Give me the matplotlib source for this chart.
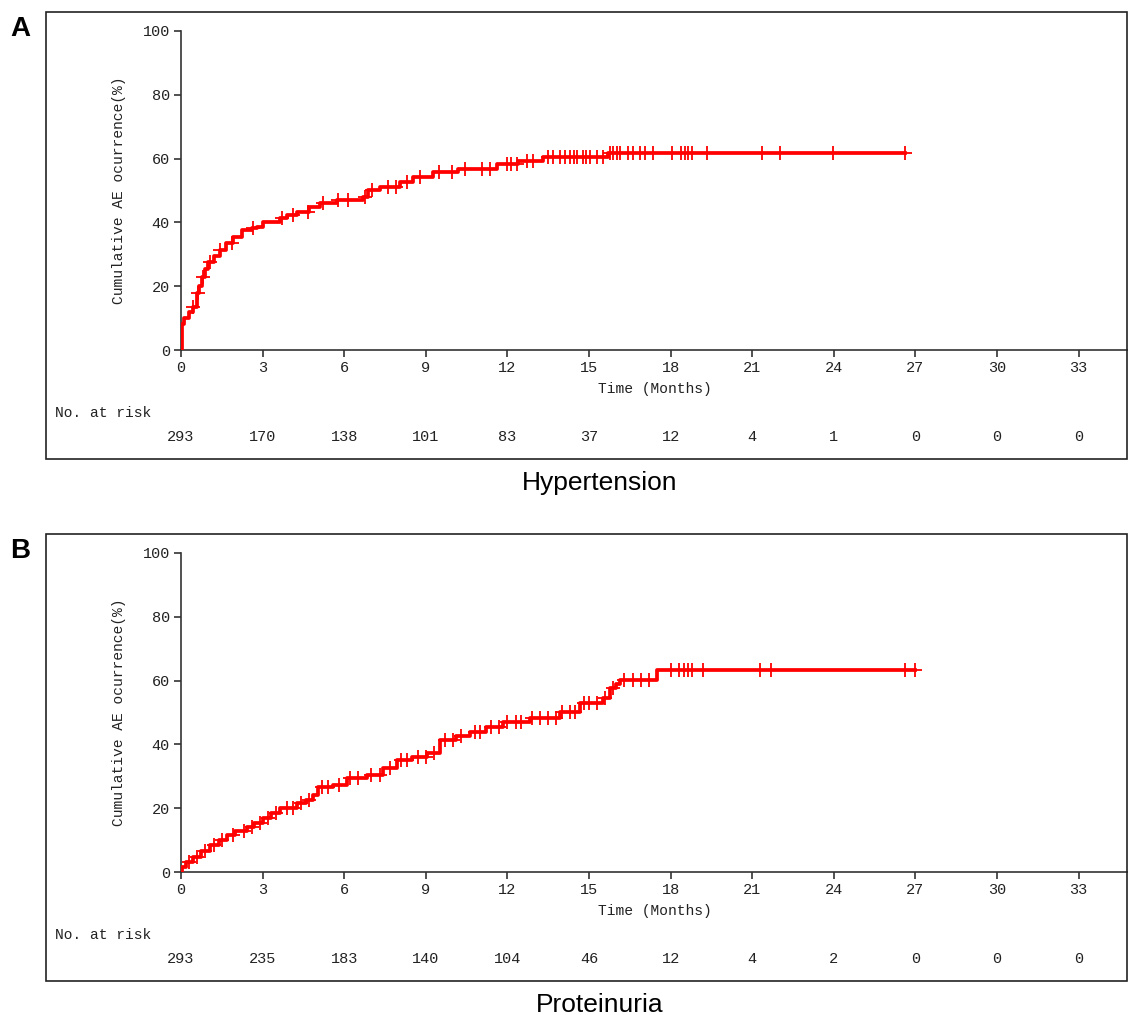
import numpy as np
import matplotlib.pyplot as plt
from matplotlib.patches import Rectangle

# ---- data ----
months = [0, 3, 6, 9, 12, 15, 18, 21, 24, 27, 30, 33]

hyp_t = [0, 0.02, 0.05, 0.1, 0.3, 0.45, 0.58, 0.68, 0.76, 0.88, 1.0, 1.2, 1.43,
         1.65, 1.92, 2.23, 2.6, 2.78, 3.03, 3.64, 3.9, 4.25, 4.7, 5.11, 5.72,
         6.7, 6.89, 7.32, 8.05, 8.54, 9.28, 10.2, 11.6, 12.4, 13.3, 15.7, 26.6]
hyp_v = [0, 5, 8, 9.9, 12, 13.6, 17.8, 20, 23, 25.5, 27.7, 29.5, 31.3,
         33.5, 35.5, 37.6, 38.2, 38.7, 40.2, 41.3, 42.2, 43.4, 44.8, 46, 47,
         48, 50.2, 51.2, 52.8, 54.3, 55.9, 56.6, 58.2, 59.2, 60.6, 61.7, 61.7]
hyp_cens = [0.45, 0.63, 0.81, 1.07, 1.43, 1.86, 2.65, 3.7, 4.13, 4.67, 5.22,
            5.77, 6.14, 6.76, 7.01, 7.61, 7.9, 8.3, 8.8, 9.5, 9.95, 10.44,
            11.05, 11.36, 11.97, 12.15, 12.34, 12.71, 12.95, 13.5, 13.69,
            13.93, 14.1, 14.3, 14.45, 14.55, 14.79, 14.9, 15.04, 15.28, 15.53,
            15.77, 15.9, 16.02, 16.14, 16.45, 16.63, 16.88, 17.06, 17.37,
            18.04, 18.4, 18.53, 18.65, 18.78, 19.33, 21.35, 22.02, 23.98, 26.6]
hyp_risk = [293, 170, 138, 101, 83, 37, 12, 4, 1, 0, 0, 0]

pro_t = [0, 0.02, 0.2, 0.45, 0.75, 1.07, 1.4, 1.68, 2.0, 2.42, 2.7, 3.03, 3.3,
         3.64, 4.25, 4.6, 4.86, 5.05, 5.6, 6.09, 6.83, 7.44, 7.93, 8.5, 9.03,
         9.52, 10.1, 10.63, 11.2, 11.85, 12.83, 13.93, 14.67, 15.53, 15.77,
         16.0, 16.14, 17.49, 27.0]
pro_v = [0, 1.7, 3, 4.8, 6.5, 8.5, 10, 11.6, 13, 14.2, 15.5, 16.8, 18.5,
         20, 21.5, 22.5, 24.1, 26.7, 27.3, 29.4, 30.4, 32.5, 35.1, 36, 37.2,
         41.4, 42.5, 44, 45.5, 47.1, 48.2, 50.3, 52.9, 54.5, 57.6,
         59, 60.2, 63.3, 63.3]
pro_cens = [0.3, 0.6, 0.9, 1.2, 1.5, 1.9, 2.3, 2.6, 2.9, 3.2, 3.5, 3.9, 4.1,
            4.4, 4.7, 5.2, 5.4, 5.8, 6.2, 6.5, 7.0, 7.3, 7.7, 8.1, 8.3, 8.7,
            9.0, 9.3, 9.7, 10.0, 10.3, 10.8, 11.0, 11.4, 11.7, 12.0, 12.3,
            12.5, 12.9, 13.2, 13.5, 13.8, 14.0, 14.3, 14.5, 14.8, 15.0, 15.3,
            15.6, 15.9, 16.3, 16.6, 16.9, 17.2, 18.0, 18.3, 18.5, 18.65, 18.8,
            19.2, 21.3, 21.7, 26.6, 27.0]
pro_risk = [293, 235, 183, 140, 104, 46, 12, 4, 2, 0, 0, 0]

W, H = 1128, 1015
fig = plt.figure(figsize=(W / 100, H / 100), dpi=100)

mono = ['Liberation Mono', 'DejaVu Sans Mono']
sans = ['Liberation Sans', 'DejaVu Sans']
gray = '#333333'
txt = '#222222'


def fx(px):
    return px / W


def fy(py):
    return 1 - py / H


def panel(top_px, t, v, cens, risk, letter, name):
    # outer box
    box_top = top_px - 19
    box_bot = top_px + 428
    fig.add_artist(Rectangle((fx(46), fy(box_bot)), fx(1127) - fx(46),
                             fy(box_top) - fy(box_bot), transform=fig.transFigure,
                             fill=False, ec='#222222', lw=1.2))
    fig.text(fx(20), fy(top_px - 2), letter, fontsize=20, fontweight='bold',
             family=sans, ha='center', va='center')
    fig.text(fx(600), fy(top_px + 452), name, fontsize=19, family=sans,
             ha='center', va='center')

    y0 = top_px + 319
    ax = fig.add_axes([fx(181), fy(y0), 1 - fx(181), fy(top_px) - fy(y0)])
    ax.step(t, v, where='post', color='red', lw=2.7, zorder=3)
    t = np.array(t)
    v = np.array(v)
    c = np.array(cens)
    idx = np.searchsorted(t, c, side='right') - 1
    ax.plot(c, v[idx], ls='none', marker='+', color='red', ms=10, mew=1.3,
            zorder=4)

    ax.set_xlim(0, (W - 181) / 27.2)
    ax.set_ylim(0, 100)
    ax.set_xticks(months)
    ax.set_yticks([0, 20, 40, 60, 80, 100])
    for s in ['top', 'right']:
        ax.spines[s].set_visible(False)
    for s in ['left', 'bottom']:
        ax.spines[s].set_color(gray)
        ax.spines[s].set_linewidth(1.2)
    ax.tick_params(direction='out', length=5, width=1.2, color=gray,
                   labelsize=11, labelcolor=txt, pad=3)
    for lab in ax.get_xticklabels() + ax.get_yticklabels():
        lab.set_family(mono)
    ax.set_ylabel('Cumulative AE ocurrence(%)', family=mono, fontsize=10.5,
                  color=txt, labelpad=12)
    ax.set_xlabel('Time (Months)', family=mono, fontsize=10.5, color=txt,
                  labelpad=5)
    fig.text(fx(55), fy(top_px + 382), 'No. at risk', family=mono,
             fontsize=10.5, color=txt, va='center', ha='left')
    for m, n in zip(months, risk):
        ax.text(m, -(406 - 319) / 319, str(n), transform=ax.get_xaxis_transform(),
                family=mono, fontsize=11, color=txt, ha='center',
                va='center')


panel(31, hyp_t, hyp_v, hyp_cens, hyp_risk, 'A', 'Hypertension')
panel(553, pro_t, pro_v, pro_cens, pro_risk, 'B', 'Proteinuria')

fig.savefig('out.png', dpi=100)
